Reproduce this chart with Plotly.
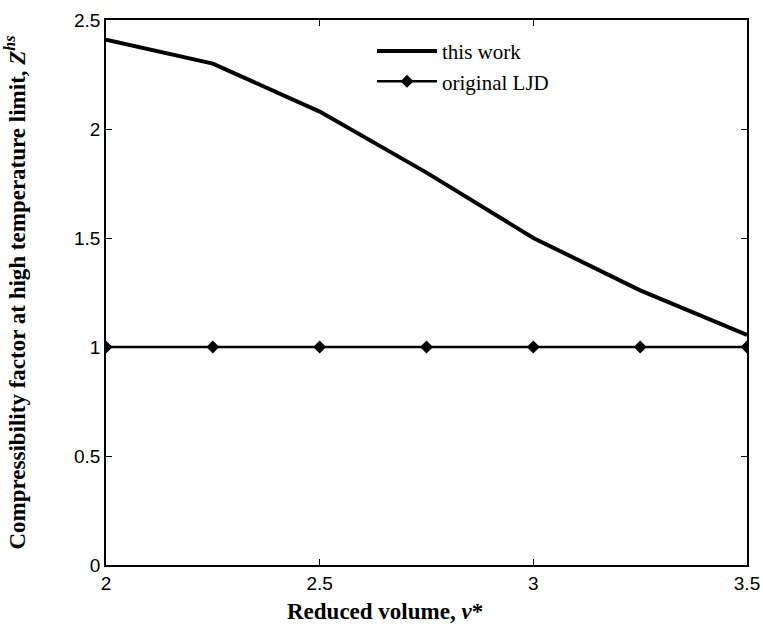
import plotly.graph_objects as go

x_vals = [2.0, 2.25, 2.5, 2.75, 3.0, 3.25, 3.5]
this_work = [2.41, 2.30, 2.08, 1.80, 1.50, 1.26, 1.055]
original_ljd = [1.0, 1.0, 1.0, 1.0, 1.0, 1.0, 1.0]

x_ticks = [2, 2.5, 3, 3.5]
x_tick_text = ["2", "2.5", "3", "3.5"]
y_ticks = [0, 0.5, 1, 1.5, 2, 2.5]
y_tick_text = ["0", "0.5", "1", "1.5", "2", "2.5"]

x_title = "<b>Reduced volume, <i>v</i>*</b>"
y_title = "<b>Compressibility factor at high temperature limit, <i>Z<sup>hs</sup></i></b>"

fig = go.Figure()
fig.add_trace(go.Scatter(x=x_vals, y=this_work, mode="lines", name="this work",
                         line=dict(color="black", width=4)))
fig.add_trace(go.Scatter(x=x_vals, y=original_ljd, mode="lines+markers", name="original LJD",
                         line=dict(color="black", width=2.5),
                         marker=dict(symbol="diamond", size=10, color="black")))

axis_common = dict(showline=True, linecolor="black", linewidth=1.5, mirror="ticks",
                   ticks="inside", ticklen=6, tickcolor="black", tickwidth=1,
                   showgrid=False, zeroline=False, automargin=False,
                   tickfont=dict(family="Liberation Sans, Arial", size=19, color="black"))

serif = "Liberation Serif, Times New Roman"

fig.update_layout(
    width=763, height=635,
    margin=dict(l=106, r=16, t=20, b=70),
    plot_bgcolor="white", paper_bgcolor="white",
    showlegend=True,
    legend=dict(x=0.415, y=0.98, xanchor="left", yanchor="top", itemwidth=60,
                bgcolor="rgba(0,0,0,0)",
                font=dict(family=serif, size=21, color="black")),
    xaxis=dict(range=[2, 3.5], tickvals=x_ticks, ticktext=x_tick_text, **axis_common),
    yaxis=dict(range=[0, 2.5], tickvals=y_ticks, ticktext=y_tick_text,
               title=dict(text=y_title, standoff=42,
                          font=dict(family=serif, size=23, color="black")),
               **axis_common),
    annotations=[dict(text=x_title, xref="paper", yref="paper", x=0.435, y=-0.0862,
                      xanchor="center", yanchor="middle", showarrow=False,
                      font=dict(family=serif, size=23, color="black"))],
)

fig.write_html("out.html", config={"displayModeBar": False},
               post_script="document.body.style.margin='0';document.body.style.overflow='hidden';")
